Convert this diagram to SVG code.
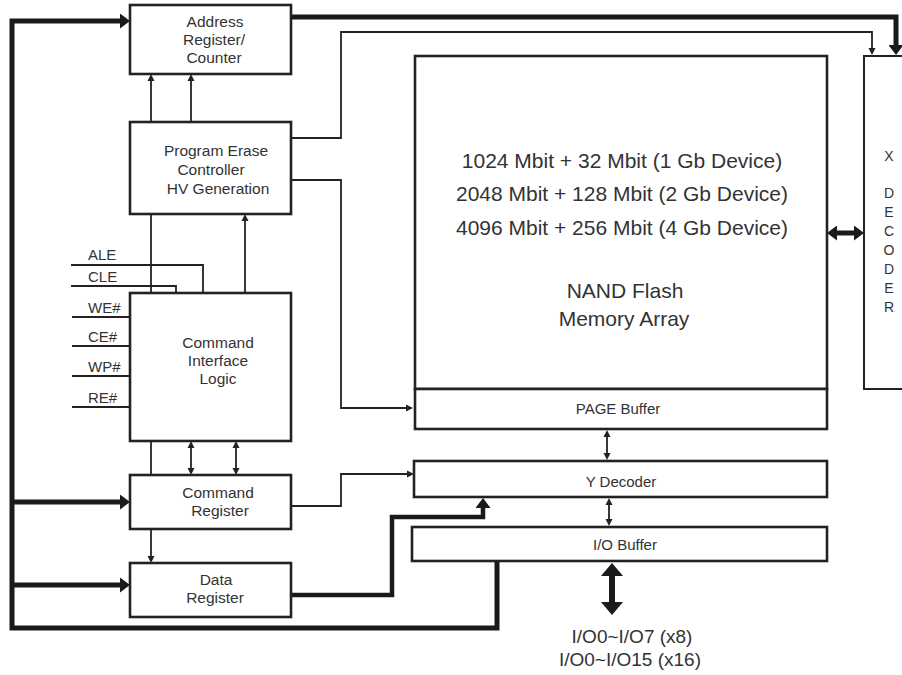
<svg xmlns="http://www.w3.org/2000/svg" width="902" height="675" viewBox="0 0 902 675">
<defs>
<style>
.box{fill:#fff;stroke:#222;stroke-width:2.6}
.t{font-family:"Liberation Sans",Arial,sans-serif;fill:#333;text-anchor:middle}
.b{font-size:15.5px}
.s{font-size:15px}
.m{font-size:21px}
.x{font-size:14px}
.sig{font-family:"Liberation Sans",Arial,sans-serif;fill:#333;font-size:15px}
.thin{fill:none;stroke:#222;stroke-width:1.8}
.thick{fill:none;stroke:#1a1a1a;stroke-width:5}
</style>
<marker id="a" markerUnits="userSpaceOnUse" markerWidth="8" markerHeight="8" refX="0" refY="3.5" orient="auto-start-reverse" viewBox="0 0 8 7"><path d="M0,0 L7,3.5 L0,7 z" fill="#222"/></marker>
<marker id="b" markerUnits="userSpaceOnUse" markerWidth="11" markerHeight="15" refX="0" refY="7.5" orient="auto-start-reverse" viewBox="0 0 11 15"><path d="M0,0 L10,7.5 L0,15 z" fill="#1a1a1a"/></marker>
<marker id="c" markerUnits="userSpaceOnUse" markerWidth="14" markerHeight="22" refX="0" refY="11" orient="auto-start-reverse" viewBox="0 0 14 22"><path d="M0,0 L13,11 L0,22 z" fill="#1a1a1a"/></marker>
</defs>
<rect width="902" height="675" fill="#fff"/>

<g id="connectors">
<path class="thick" d="M497,561 V628 H12 V21 H120" marker-end="url(#b)"/>
<path class="thick" d="M12,502 H120" marker-end="url(#b)"/>
<path class="thick" d="M12,585 H120" marker-end="url(#b)"/>
<path class="thick" d="M291,17 H896 V45" marker-end="url(#b)"/>
<path class="thick" style="stroke-width:4.5" d="M291,595 H392 V517 H483 V508" marker-end="url(#b)"/>
<path class="thick" d="M837,233 H854" marker-start="url(#b)" marker-end="url(#b)"/>
<path class="thick" style="stroke-width:6" d="M612,576 V602" marker-start="url(#c)" marker-end="url(#c)"/>
<path class="thin" d="M151,122 V81" marker-end="url(#a)"/>
<path class="thin" d="M191,122 V81" marker-end="url(#a)"/>
<path class="thin" d="M245,293 V221" marker-end="url(#a)"/>
<path class="thin" d="M151,214 V293"/>
<path class="thin" d="M151,441 V475"/>
<path class="thin" d="M151,529 V556" marker-end="url(#a)"/>
<path class="thin" d="M191,448 V468" marker-start="url(#a)" marker-end="url(#a)"/>
<path class="thin" d="M236,448 V468" marker-start="url(#a)" marker-end="url(#a)"/>
<path class="thin" d="M291,180 H341 V408 H406" marker-end="url(#a)"/>
<path class="thin" d="M291,138 H341 V32 H872 V48" marker-end="url(#a)"/>
<path class="thin" d="M291,506 H341 V474 H407" marker-end="url(#a)"/>
<path class="thin" d="M607,437 V453" marker-start="url(#a)" marker-end="url(#a)"/>
<path class="thin" d="M609,505 V519" marker-start="url(#a)" marker-end="url(#a)"/>
<path class="thin" d="M71,265 H203 V293"/>
<path class="thin" d="M71,286 H176 V293"/>
<path class="thin" d="M72,317 H130"/>
<path class="thin" d="M72,346 H130"/>
<path class="thin" d="M72,376 H130"/>
<path class="thin" d="M72,407 H130"/>
</g>

<g id="signals">
<text class="sig" x="88" y="260">ALE</text>
<text class="sig" x="88" y="282">CLE</text>
<text class="sig" x="88" y="313">WE#</text>
<text class="sig" x="88" y="342">CE#</text>
<text class="sig" x="88" y="372">WP#</text>
<text class="sig" x="88" y="403">RE#</text>
</g>

<g id="address-register">
<rect class="box" x="130" y="5" width="161" height="69"/>
<text class="t b" x="215" y="27">Address</text>
<text class="t b" x="214" y="45">Register/</text>
<text class="t b" x="214" y="63">Counter</text>
</g>

<g id="program-erase">
<rect class="box" x="130" y="122" width="161" height="92"/>
<text class="t b" x="216" y="156">Program Erase</text>
<text class="t b" x="211" y="175">Controller</text>
<text class="t b" x="218" y="194">HV Generation</text>
</g>

<g id="command-interface">
<rect class="box" x="130" y="293" width="161" height="148"/>
<text class="t b" x="218" y="348">Command</text>
<text class="t b" x="218" y="366">Interface</text>
<text class="t b" x="218" y="384">Logic</text>
</g>

<g id="command-register">
<rect class="box" x="130" y="475" width="161" height="54"/>
<text class="t b" x="218" y="498">Command</text>
<text class="t b" x="220" y="516">Register</text>
</g>

<g id="data-register">
<rect class="box" x="130" y="563" width="161" height="54"/>
<text class="t b" x="216" y="585">Data</text>
<text class="t b" x="215" y="603">Register</text>
</g>

<g id="memory-array">
<rect class="box" x="415" y="56" width="412" height="333"/>
<text class="t m" x="622" y="168">1024 Mbit + 32 Mbit (1 Gb Device)</text>
<text class="t m" x="622" y="201">2048 Mbit + 128 Mbit (2 Gb Device)</text>
<text class="t m" x="622" y="235">4096 Mbit + 256 Mbit (4 Gb Device)</text>
<text class="t m" x="625" y="298">NAND Flash</text>
<text class="t m" x="624" y="326">Memory Array</text>
</g>

<g id="page-buffer">
<rect class="box" x="415" y="389" width="412" height="40"/>
<text class="t s" x="618" y="414">PAGE Buffer</text>
</g>

<g id="y-decoder">
<rect class="box" x="414" y="461" width="413" height="36"/>
<text class="t s" x="621" y="487">Y Decoder</text>
</g>

<g id="io-buffer">
<rect class="box" x="412" y="527" width="415" height="34"/>
<text class="t s" x="625" y="550">I/O Buffer</text>
</g>

<g id="x-decoder">
<rect class="box" style="stroke-width:2" x="864" y="56" width="50" height="333"/>
<text class="t x" x="889" y="161">X</text>
<text class="t x" x="889" y="198">D</text>
<text class="t x" x="889" y="217">E</text>
<text class="t x" x="889" y="236">C</text>
<text class="t x" x="889" y="255">O</text>
<text class="t x" x="889" y="274">D</text>
<text class="t x" x="889" y="293">E</text>
<text class="t x" x="889" y="312">R</text>
</g>

<g id="io-label">
<text class="t" style="font-size:19px" x="632" y="643">I/O0~I/O7 (x8)</text>
<text class="t" style="font-size:19px" x="630" y="666">I/O0~I/O15 (x16)</text>
</g>
</svg>
